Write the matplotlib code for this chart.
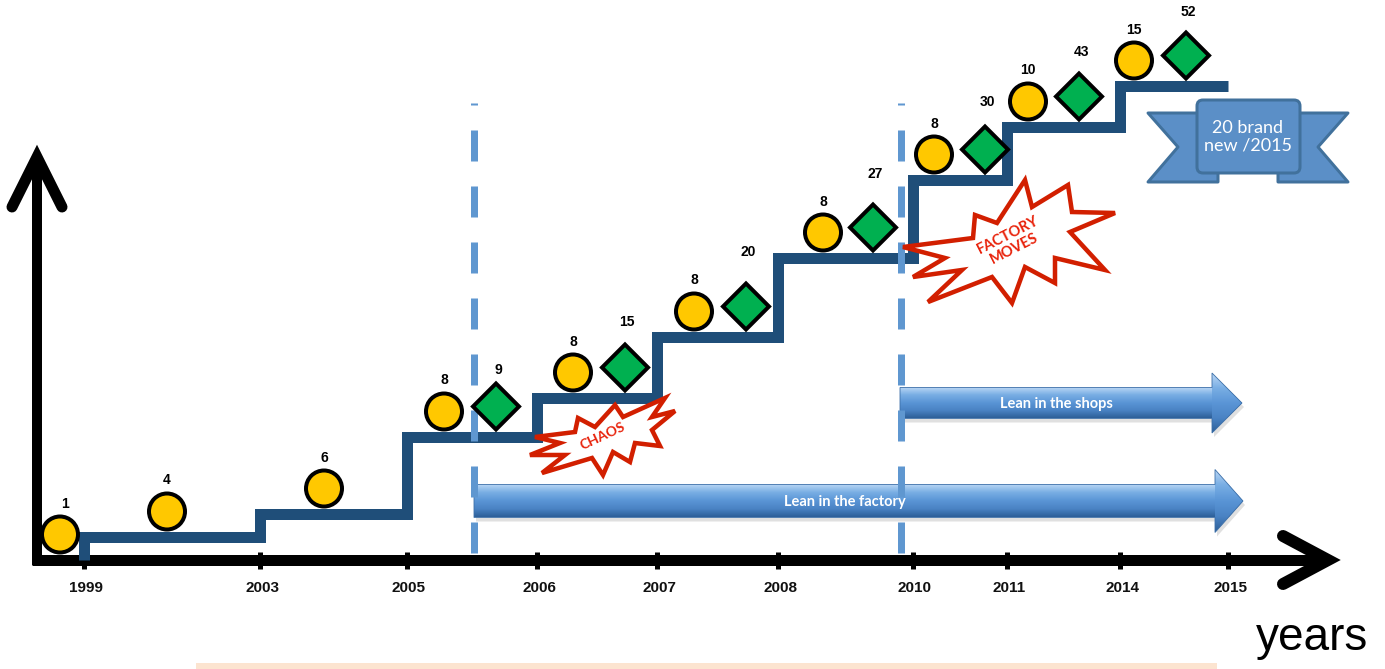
import numpy as np
import matplotlib
matplotlib.use('Agg')
import matplotlib.pyplot as plt
from matplotlib.patches import Circle, Polygon, FancyBboxPatch
from matplotlib.colors import LinearSegmentedColormap

# timeline (hand drawn axis, years are not evenly spaced)
years = ['1999', '2003', '2005', '2006', '2007', '2008', '2010', '2011', '2014', '2015']
year_pos = [84, 260, 407, 537, 657, 778, 913, 1007, 1120, 1228]

# height of each step above the axis (one per year, last year closes the line)
levels = [23, 46, 123, 162, 223, 302, 380, 433, 474]

# yellow circles: one per segment of the staircase
circle_vals = [1, 4, 6, 8, 8, 8, 8, 8, 10, 15]
circle_x = [60, 167, 324, 444, 573, 694, 823, 934, 1028, 1134]

# green diamonds, from 2005 on
diamond_vals = [9, 15, 20, 27, 30, 43, 52]
diamond_x = [496, 625, 746, 873, 985, 1079, 1186]
diamond_label_dy = [36, 46, 54, 54, 47, 45, 44]

H = 669
BASE = H - 560   # y of the time axis


def P(px, py):
    # picture pixels (y down) -> axes units (y up)
    return (px, H - py)


def pts(px):
    return px * 0.72


fig = plt.figure(figsize=(13.85, 6.69), dpi=100)
ax = fig.add_axes([0, 0, 1, 1])
ax.axis('off')

# peach band at the bottom
ax.add_patch(Polygon([P(196, 663), P(1217, 663), P(1217, 670), P(196, 670)],
                     closed=True, fc='#FCE4D0', ec='none', zorder=0))

# axes drawn by hand
ax.plot(*zip(P(37, 565), P(37, 162)), color='black', lw=pts(10), solid_capstyle='butt', zorder=2)
ax.plot(*zip(P(12, 207), P(37, 157), P(62, 207)), color='black', lw=pts(11),
        solid_capstyle='round', solid_joinstyle='miter', zorder=2)
ax.plot(*zip(P(32, 560), P(1322, 560)), color='black', lw=pts(11), solid_capstyle='butt', zorder=2)
ax.plot(*zip(P(1283, 536), P(1328, 560), P(1283, 584)), color='black', lw=pts(12),
        solid_capstyle='round', solid_joinstyle='miter', zorder=2)
for x, yr in zip(year_pos, years):
    ax.plot([x, x], [H - 552, H - 569], color='black', lw=pts(5), solid_capstyle='butt', zorder=2)
    ax.text(x + 2, H - 588, yr, ha='center', va='center', fontsize=11, fontweight='bold',
            family='Liberation Sans', color='#111111')

ax.text(1312, H - 638, 'years', ha='center', va='center', fontsize=33, family='Liberation Sans')

# staircase
sx = [year_pos[0]] + year_pos[:9] + [year_pos[9]]
sy = [0] + levels + [levels[-1]]
ax.plot(sx, [BASE + v for v in sy], drawstyle='steps-post', color='#1F4E79', lw=pts(11),
        solid_joinstyle='miter', solid_capstyle='butt', zorder=3)


# block arrows with a vertical gradient
grad = LinearSegmentedColormap.from_list('g', ['#BBD7F5', '#79AEE4', '#5A95D6', '#4A83C4', '#2D5F98'])


def block_arrow(x0, x1, yc, sh, hh, hl, label):
    v = [P(x0, yc - sh / 2), P(x1 - hl, yc - sh / 2), P(x1 - hl, yc - hh / 2), P(x1, yc),
         P(x1 - hl, yc + hh / 2), P(x1 - hl, yc + sh / 2), P(x0, yc + sh / 2)]
    sv = [(a + 2, b - 4) for a, b in v]
    ax.add_patch(Polygon(sv, closed=True, fc='#000000', alpha=0.12, ec='none', zorder=3.5))
    poly = Polygon(v, closed=True, fc='none', ec='#3C6FA8', lw=0.6, zorder=4.2)
    ax.add_patch(poly)
    g = np.linspace(0, 1, 200).reshape(-1, 1)
    im = ax.imshow(g, cmap=grad, aspect='auto', extent=[x0, x1, H - (yc + sh / 2), H - (yc - sh / 2)],
                   zorder=4)
    im.set_clip_path(poly)
    # head gradient (taller than the shaft)
    im2 = ax.imshow(g, cmap=grad, aspect='auto', extent=[x1 - hl, x1, H - (yc + hh / 2), H - (yc - hh / 2)],
                    zorder=4)
    im2.set_clip_path(poly)
    ax.text((x0 + x1 - hl) / 2, H - yc - 1, label, ha='center', va='center', color='white',
            fontsize=10.5, fontweight='bold', family='Lato', zorder=5)


block_arrow(474, 1243, 501, 33, 63, 28, 'Lean in the factory')
block_arrow(900, 1242, 403, 31, 60, 30, 'Lean in the shops')

# dashed separators
for x in [474, 901]:
    ax.plot([x, x], [H - 553, H - 103], color='#5F97D0', lw=pts(7),
            dashes=(31 / 7, 25 / 7), zorder=4.5)

# bursts
chaos = [(535, 437), (575, 432), (578, 418), (595, 427), (615, 405), (623, 417), (665, 398),
         (652, 417), (675, 411), (652, 430), (660, 446), (635, 443), (630, 462), (613, 452),
         (603, 475), (592, 458), (542, 473), (565, 455), (530, 455), (560, 443)]
moves = [(903, 247), (973, 238), (975, 215), (997, 223), (1025, 180), (1032, 207), (1068, 185),
         (1072, 212), (1115, 213), (1070, 232), (1105, 270), (1055, 258), (1055, 283), (1025, 267),
         (1012, 303), (992, 277), (928, 302), (962, 270), (913, 277), (945, 258)]
for shape in [chaos, moves]:
    ax.add_patch(Polygon([P(a, b) for a, b in shape], closed=True, fc='white', ec='#D21F00',
                         lw=pts(4.5), joinstyle='miter', zorder=6))
ax.text(603, H - 436, 'CHAOS', rotation=25, ha='center', va='center', color='#E8230C',
        fontsize=10, fontweight='bold', family='Lato', zorder=7)
ax.text(1011, H - 242, 'FACTORY\nMOVES', rotation=27, ha='center', va='center', color='#E8230C',
        fontsize=10.5, fontweight='bold', family='Lato', linespacing=1.05, zorder=7)

# circles and diamonds sitting on the staircase
seg_levels = [0] + levels
for i, (cx, val) in enumerate(zip(circle_x, circle_vals)):
    cy = BASE + seg_levels[i] + 5.5 + 20
    ax.add_patch(Circle((cx, cy), 18, fc='#FFC800', ec='black', lw=pts(4), zorder=8))
    dx = 5 if i == 0 else 0
    ax.text(cx + dx, cy + 31, str(val), ha='center', va='center', fontsize=10, fontweight='bold',
            family='Liberation Sans', zorder=8)

for j, (dx_, val) in enumerate(zip(diamond_x, diamond_vals)):
    lvl = seg_levels[3 + j]
    cy = BASE + lvl + 5.5 + 25
    r = 23
    ax.add_patch(Polygon([(dx_ - r, cy), (dx_, cy + r), (dx_ + r, cy), (dx_, cy - r)], closed=True,
                         fc='#00B050', ec='black', lw=pts(4), joinstyle='miter', zorder=8))
    ax.text(dx_ + 2, cy + diamond_label_dy[j], str(val), ha='center', va='center', fontsize=10,
            fontweight='bold', family='Liberation Sans', zorder=8)

# ribbon banner
rib_fc, rib_ec = '#5B8FC7', '#41719C'
ax.add_patch(Polygon([P(1148, 113), P(1218, 113), P(1218, 182), P(1148, 182), P(1178, 147)],
                     closed=True, fc=rib_fc, ec=rib_ec, lw=pts(3), joinstyle='round', zorder=8))
ax.add_patch(Polygon([P(1278, 113), P(1348, 113), P(1318, 147), P(1348, 182), P(1278, 182)],
                     closed=True, fc=rib_fc, ec=rib_ec, lw=pts(3), joinstyle='round', zorder=8))
ax.add_patch(FancyBboxPatch((1197, H - 173), 103, 73, boxstyle='round,pad=0,rounding_size=6',
                            fc=rib_fc, ec=rib_ec, lw=pts(3), zorder=9))
ax.text(1248, H - 137, '20 brand\nnew /2015', ha='center', va='center', color='white',
        fontsize=13, family='Lato', linespacing=1.1, zorder=10)

ax.set_xlim(0, 1385)
ax.set_ylim(0, 669)
fig.savefig('out.png', dpi=100, facecolor='white')
